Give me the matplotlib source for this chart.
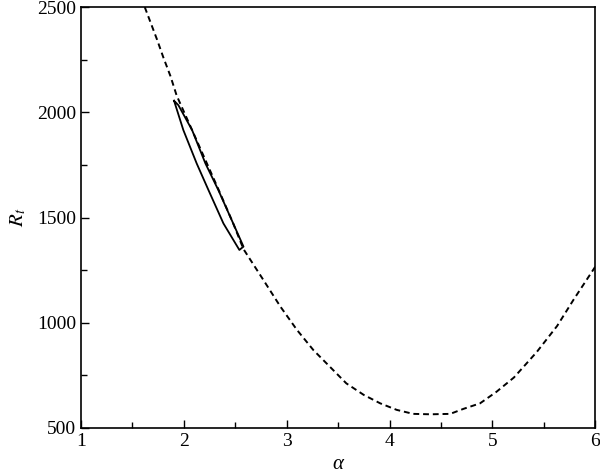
import matplotlib
matplotlib.use("Agg")
import matplotlib.pyplot as plt
from matplotlib.ticker import MultipleLocator

# Neutral curve (dashed)
curve_a = [1.62, 1.74, 1.80, 1.87, 1.93, 2.08, 2.21, 2.34, 2.48, 2.58, 2.77, 2.94,
           3.10, 3.26, 3.42, 3.58, 3.75, 3.91, 4.07, 4.23, 4.40, 4.59, 4.72, 4.88,
           5.04, 5.21, 5.43, 5.63, 5.79, 6.00]
curve_R = [2500, 2345, 2262, 2172, 2080, 1916, 1773, 1630, 1472, 1350, 1206, 1076,
           966, 870, 791, 712, 657, 617, 586, 567, 565, 567, 591, 617,
           672, 740, 860, 985, 1110, 1266]

# Closed loop (solid)
loop_a = [1.905, 1.995, 2.125, 2.24, 2.385, 2.54, 2.58, 2.48, 2.336, 2.21, 2.08, 1.947, 1.905]
loop_R = [2055, 1916, 1757, 1630, 1472, 1346, 1362, 1472, 1630, 1757, 1916, 2034, 2055]

plt.rcParams['font.family'] = ['Liberation Serif', 'DejaVu Serif']
plt.rcParams['mathtext.fontset'] = 'stix'

fig = plt.figure(figsize=(6, 4.75), dpi=100)
ax = fig.add_axes([0.135, 0.099, 0.857, 0.886])

ax.plot(curve_a, curve_R, color='black', lw=1.4, linestyle=(0, (3, 2)))
ax.plot(loop_a, loop_R, color='black', lw=1.3)

ax.set_xlim(1, 6)
ax.set_ylim(500, 2500)
ax.xaxis.set_major_locator(MultipleLocator(1))
ax.xaxis.set_minor_locator(MultipleLocator(0.5))
ax.yaxis.set_major_locator(MultipleLocator(500))
ax.yaxis.set_minor_locator(MultipleLocator(250))
ax.tick_params(which='both', direction='in', top=False, right=False, labelsize=14)
ax.tick_params(which='major', length=6, width=1)
ax.tick_params(which='minor', length=4, width=1)
for s in ax.spines.values():
    s.set_linewidth(1.2)

ax.set_xlabel('α', fontsize=15, fontstyle='italic', labelpad=4)
ax.set_ylabel('$R_t$', fontsize=15, labelpad=6)

fig.savefig('out.png', dpi=100)
